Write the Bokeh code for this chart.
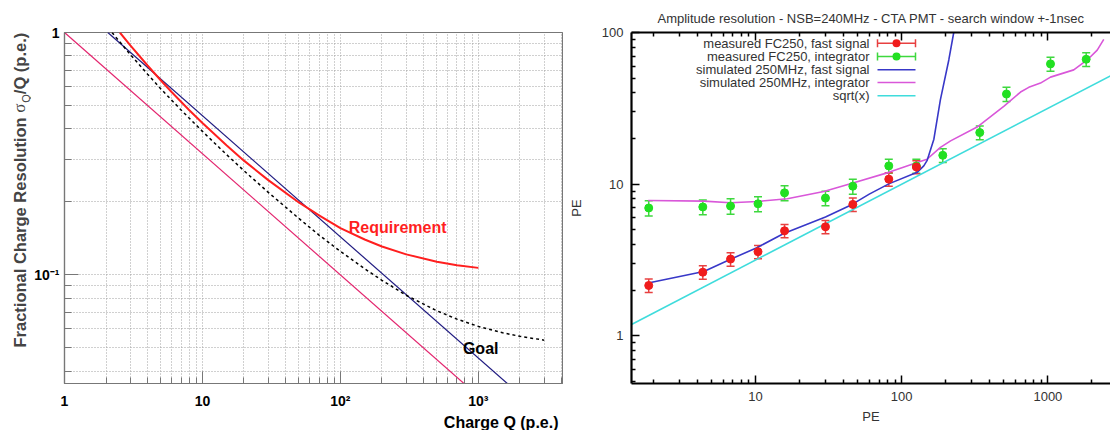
from bokeh.plotting import figure
from bokeh.layouts import row
from bokeh.models import (FixedTicker, CustomJSTickFormatter, LogAxis, Label, Title,
                          BoxAnnotation, Whisker, TeeHead, ColumnDataSource)
from bokeh.embed import file_html
from bokeh.resources import INLINE
import math

# ---------------- left panel data (charge resolution) ----------------
poisson_q = [1.0, 830.0]
poisson_res = [1.0, 0.0347]
goal_line_q = [2.06, 1711.0]
goal_line_res = [1.0, 0.0347]
req_q = [2.52, 3, 4, 5, 6, 8, 10, 15, 20, 30, 50, 70, 100, 150, 200, 300, 500, 700, 1000]
req_res = [1.0, 0.885, 0.731, 0.634, 0.567, 0.479, 0.423, 0.342, 0.296, 0.246, 0.199,
           0.176, 0.156, 0.140, 0.131, 0.1215, 0.1133, 0.1097, 0.1069]
goal_q = [2.21, 3, 4, 5, 7, 10, 15, 20, 30, 50, 70, 100, 150, 200, 300, 500, 700, 1000,
          1500, 2000, 3000]
goal_res = [1.0, 0.811, 0.673, 0.585, 0.479, 0.391, 0.313, 0.269, 0.219, 0.171, 0.146,
            0.125, 0.106, 0.095, 0.0824, 0.0711, 0.0657, 0.0613, 0.0577, 0.0558, 0.0538]
left_x_ticks = [1, 10, 100, 1000]
left_y_ticks = [0.1, 1]

# ---------------- right panel data (amplitude resolution) ----------------
pe_meas_fast = [1.86, 4.36, 6.75, 10.4, 15.8, 30.1, 46.3, 81.6, 126]
res_meas_fast = [2.15, 2.63, 3.21, 3.59, 4.93, 5.24, 7.36, 10.8, 13.0]
err_meas_fast = [0.22, 0.27, 0.33, 0.36, 0.5, 0.53, 0.75, 1.1, 1.3]
pe_meas_int = [1.86, 4.36, 6.75, 10.4, 15.8, 30.1, 46.3, 81.6, 126, 191, 342, 521, 1042, 1828]
res_meas_int = [6.97, 7.08, 7.18, 7.43, 8.77, 8.1, 9.7, 13.2, 13.2, 15.5, 21.9, 39.3, 62.1, 66.6]
err_meas_int = [0.8, 0.8, 0.85, 0.85, 1.0, 0.9, 1.1, 1.4, 1.4, 1.6, 2.3, 4.2, 6.5, 7.0]
sim_fast_pe = [1.845, 4.43, 6.75, 10.3, 15.6, 30.1, 45.8, 60, 81.6, 127.6, 141.6, 149, 166, 184, 210, 227]
sim_fast_res = [2.23, 2.66, 3.2, 3.83, 4.73, 6.08, 7.36, 8.6, 10.05, 11.97, 13.2, 14.3, 19.8, 36.1, 65.9, 100]
sim_int_pe = [1.845, 4.43, 6.75, 10.3, 16.5, 29.3, 45.8, 81.6, 127.6, 149, 184, 216, 328, 499,
              650, 740, 890, 1042, 1503, 1857, 2175, 2411]
sim_int_res = [7.81, 7.74, 7.55, 7.7, 8.02, 8.95, 10.15, 11.97, 13.9, 14.6, 17.5, 19.3, 23.8, 32.6,
               40.5, 43.5, 46.4, 50.8, 56.7, 65.9, 76.6, 90]
sqrt_pe = [1.418, 2681]
sqrt_res = [1.19, 51.8]
right_x_ticks = [10, 100, 1000]
right_y_ticks = [1, 10, 100]
legend_labels = ["measured FC250, fast signal", "measured FC250, integrator",
                 "simulated 250MHz, fast signal", "simulated 250MHz, integrator", "sqrt(x)"]

FONT = "Liberation Sans"
H = 430
TOP, BOT = 32, 44   # shared (aligned) borders of the three canvases

# ====================== left y-axis title strip ======================
ylab = figure(width=31, height=H, x_range=(0, 1), y_range=(0, 1),
              x_axis_location=None, y_axis_location=None,
              output_backend="svg", toolbar_location=None,
              min_border_left=0, min_border_right=0, min_border_top=TOP, min_border_bottom=BOT)
ylab.outline_line_color = None
ylab.grid.visible = False
ang = math.pi / 2
ylab.add_layout(Label(x=19.3, y=36, x_units="screen", y_units="screen", angle=ang,
                      text="Fractional Charge Resolution ", text_font=FONT,
                      text_baseline="middle",
                      text_font_style="bold", text_font_size="16.5px"))
ylab.add_layout(Label(x=19.3, y=270.7, x_units="screen", y_units="screen", angle=ang,
                      text="\u03c3", text_font="Liberation Serif", text_baseline="middle",
                      text_font_size="17px"))
ylab.add_layout(Label(x=25, y=280.7, x_units="screen", y_units="screen", angle=ang,
                      text="Q", text_font=FONT, text_font_size="11px",
                      text_baseline="middle"))
ylab.add_layout(Label(x=19.3, y=289.3, x_units="screen", y_units="screen", angle=ang,
                      text="/Q (p.e.)", text_font=FONT, text_font_style="bold",
                      text_baseline="middle", text_font_size="16.5px"))

# =============================== LEFT ===============================
p1 = figure(width=532, height=H, x_axis_type="log", y_axis_type="log",
            x_range=(1, 4074), y_range=(0.03564, 1.0),
            output_backend="svg", toolbar_location=None,
            min_border_left=31, min_border_right=1, min_border_top=TOP, min_border_bottom=BOT)
p1.outline_line_color = "#777777"
p1.outline_line_width = 1.2

minor_x1 = [m * 10 ** k for k in range(0, 4) for m in range(2, 10)]
minor_y1 = [m * 10.0 ** k for k in (-2, -1) for m in range(2, 10)]
p1.xaxis.ticker = FixedTicker(ticks=left_x_ticks, minor_ticks=minor_x1)
p1.yaxis.ticker = FixedTicker(ticks=left_y_ticks, minor_ticks=minor_y1)
p1.xaxis.formatter = CustomJSTickFormatter(code="""
const e = Math.round(Math.log10(tick));
const m = {0: '1', 1: '10', 2: '10\u00b2', 3: '10\u00b3'};
return (e in m) ? m[e] : '';""")
p1.yaxis.formatter = CustomJSTickFormatter(code="""
const e = Math.round(Math.log10(tick));
if (e === 0) return '1';
if (e === -1) return '10\u207b\u00b9';
return '';""")
for ax in (p1.xaxis, p1.yaxis):
    ax.axis_line_color = "#777777"
    ax.axis_line_width = 1.2
    ax.major_tick_line_color = "#777777"
    ax.minor_tick_line_color = "#777777"
    ax.major_tick_out = 0
    ax.minor_tick_out = 0
    ax.major_label_text_font = FONT
    ax.major_label_text_font_style = "bold"
    ax.major_label_text_font_size = "14px"
    ax.major_label_text_color = "black"
p1.xaxis.major_tick_in = 12
p1.xaxis.minor_tick_in = 6
p1.yaxis.major_tick_in = 14
p1.yaxis.minor_tick_in = 7
p1.xaxis.major_label_standoff = 9
p1.yaxis.major_label_standoff = 5

for g in (p1.xgrid, p1.ygrid):
    g.grid_line_color = "#a0a0a0"
    g.grid_line_dash = "1 2"
    g.minor_grid_line_color = "#a0a0a0"
    g.minor_grid_line_dash = "1 2"

p1.line(poisson_q, poisson_res, line_color="#e3246e", line_width=1.2)
p1.line(goal_line_q, goal_line_res, line_color="#1f1a80", line_width=1.2)
p1.line(goal_q, goal_res, line_color="black", line_width=1.5, line_dash="3 3")
p1.line(req_q, req_res, line_color="#ff1f1f", line_width=2)

p1.add_layout(Label(x=115, y=0.157, text="Requirement", text_color="#ff1f1f",
                    text_baseline="alphabetic",
                    text_font=FONT, text_font_style="bold", text_font_size="16px"))
p1.add_layout(Label(x=773, y=0.0498, text="Goal", text_color="black",
                    text_baseline="alphabetic",
                    text_font=FONT, text_font_style="bold", text_font_size="16px"))

p1.add_layout(Title(text="Charge Q (p.e.)", align="right", standoff=0, offset=4,
                    text_font=FONT, text_font_style="bold", text_font_size="16px",
                    text_color="black"), "below")

# =============================== RIGHT ===============================
p2 = figure(width=547, height=H, x_axis_type="log", y_axis_type="log",
            x_range=(1.418, 2681), y_range=(0.4857, 100),
            output_backend="svg", toolbar_location=None,
            min_border_left=68, min_border_right=0, min_border_top=TOP, min_border_bottom=BOT)
p2.outline_line_color = None
p2.grid.visible = False
xb = p2.below[0]
yl = p2.left[0]

minor_x2 = [m * 10 ** k for k in range(0, 4) for m in range(2, 10)]
minor_y2 = [m * 10.0 ** k for k in (-1, 0, 1) for m in range(2, 10)]
fmt2 = CustomJSTickFormatter(code="return String(Math.round(tick));")
xb.ticker = FixedTicker(ticks=right_x_ticks, minor_ticks=minor_x2)
yl.ticker = FixedTicker(ticks=right_y_ticks, minor_ticks=minor_y2)
xb.formatter = fmt2
yl.formatter = fmt2
top_axis = LogAxis(ticker=FixedTicker(ticks=right_x_ticks, minor_ticks=minor_x2))
p2.add_layout(top_axis, "above")
for ax in (xb, yl, top_axis):
    ax.axis_line_color = "black"
    ax.axis_line_width = 2.2
    ax.major_tick_line_color = "black"
    ax.minor_tick_line_color = "black"
    ax.major_tick_line_width = 1.5
    ax.minor_tick_line_width = 1.5
    ax.major_tick_out = 0
    ax.minor_tick_out = 0
    ax.major_tick_in = 8
    ax.minor_tick_in = 4
    ax.major_label_text_font = FONT
    ax.major_label_text_font_size = "13px"
    ax.major_label_text_color = "#333333"
    ax.axis_label_text_font = FONT
    ax.axis_label_text_font_size = "13px"
    ax.axis_label_text_font_style = "normal"
    ax.axis_label_text_color = "#333333"
top_axis.major_label_text_font_size = "0px"
top_axis.major_label_standoff = 0
top_axis.formatter = CustomJSTickFormatter(code="return '';")
xb.axis_label = "PE"
yl.axis_label = "PE"
xb.major_label_standoff = 8
yl.major_label_standoff = 8
xb.axis_label_standoff = 5
yl.axis_label_standoff = 15

p2.title.text = "Amplitude resolution - NSB=240MHz - CTA PMT - search window +-1nsec"
p2.title.align = "left"
p2.title.offset = 26
p2.title.standoff = 10
p2.title.vertical_align = "top"
p2.title.text_font = FONT
p2.title.text_font_size = "13px"
p2.title.text_font_style = "normal"
p2.title.text_color = "#333333"

p2.line(sqrt_pe, sqrt_res, line_color="#3fdcdc", line_width=1.6)
p2.line(sim_int_pe, sim_int_res, line_color="#d957d9", line_width=1.6)
p2.line(sim_fast_pe, sim_fast_res, line_color="#3838c8", line_width=1.6)

src_f = ColumnDataSource(dict(x=pe_meas_fast, y=res_meas_fast,
                              lo=[v - e for v, e in zip(res_meas_fast, err_meas_fast)],
                              hi=[v + e for v, e in zip(res_meas_fast, err_meas_fast)]))
src_i = ColumnDataSource(dict(x=pe_meas_int, y=res_meas_int,
                              lo=[v - e for v, e in zip(res_meas_int, err_meas_int)],
                              hi=[v + e for v, e in zip(res_meas_int, err_meas_int)]))
for src, col in ((src_i, "#3ed83e"), (src_f, "#e84040")):
    p2.add_layout(Whisker(source=src, base="x", lower="lo", upper="hi", dimension="height",
                          line_color=col, line_width=1.5,
                          lower_head=TeeHead(size=8, line_color=col, line_width=1.5),
                          upper_head=TeeHead(size=8, line_color=col, line_width=1.5)))
p2.scatter("x", "y", source=src_i, size=8, color="#22e022")
p2.scatter("x", "y", source=src_f, size=8, color="#f01c1c")

# legend (gnuplot style: text left, sample right); frame-relative positions
row_y = [340.3, 327.0, 313.7, 301.0, 287.7]
sample_cols = ["#f01c1c", "#22e022", "#3838c8", "#d957d9", "#3fdcdc"]
bar_cols = ["#e84040", "#3ed83e", "#3838c8", "#d957d9", "#3fdcdc"]
LX0, LX1, LXD = 246, 284, 265
for i, (lab, yy) in enumerate(zip(legend_labels, row_y)):
    p2.add_layout(Label(x=238, y=yy, x_units="screen", y_units="screen", text=lab,
                        text_align="right", text_baseline="middle", text_font=FONT,
                        text_font_size="13px", text_color="#333333"))
    lc = bar_cols[i]
    p2.add_layout(BoxAnnotation(left=LX0, right=LX1, bottom=yy - 0.8, top=yy + 0.8,
                                left_units="screen", right_units="screen",
                                bottom_units="screen", top_units="screen",
                                fill_color=lc, fill_alpha=1, line_color=None))
    if i < 2:
        for cx in (LX0, LX1):
            p2.add_layout(BoxAnnotation(left=cx - 0.75, right=cx + 0.75, bottom=yy - 4,
                                        top=yy + 4, left_units="screen", right_units="screen",
                                        bottom_units="screen", top_units="screen",
                                        fill_color=lc, fill_alpha=1, line_color=None))
        p2.add_layout(BoxAnnotation(left=LXD - 4, right=LXD + 4, bottom=yy - 4, top=yy + 4,
                                    left_units="screen", right_units="screen",
                                    bottom_units="screen", top_units="screen",
                                    border_radius=4, fill_color=sample_cols[i], fill_alpha=1,
                                    line_color=None))

layout = row(ylab, p1, p2)
open("out.html", "w").write(file_html(layout, INLINE))
